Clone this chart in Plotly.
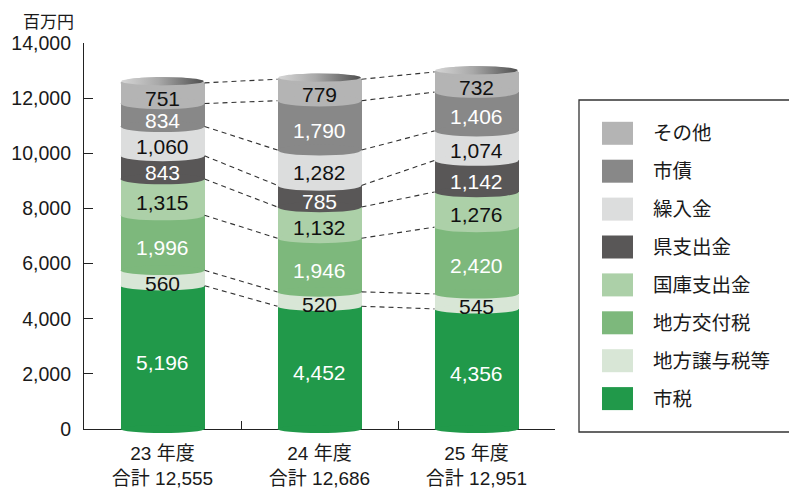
import numpy as np
import plotly.graph_objects as go

# ---------------- data ----------------
years = ["23 年度", "24 年度", "25 年度"]
totals = [12555, 12686, 12951]
series_names = ["市税", "地方譲与税等", "地方交付税", "国庫支出金", "県支出金", "繰入金", "市債", "その他"]  # bottom -> top
shizei = [5196, 4452, 4356]
jouyozei = [560, 520, 545]
koufuzei = [1996, 1946, 2420]
kokko = [1315, 1132, 1276]
kenshishutsu = [843, 785, 1142]
kurire = [1060, 1282, 1074]
shisai = [834, 1790, 1406]
sonota = [751, 779, 732]
series_values = [shizei, jouyozei, koufuzei, kokko, kenshishutsu, kurire, shisai, sonota]
y_ticks = [0, 2000, 4000, 6000, 8000, 10000, 12000, 14000]
unit_label = "百万円"

# ---------------- style ----------------
colors = ["#21994a", "#d8e6d6", "#7db87c", "#acd0a8", "#595757", "#dcdddd", "#888888", "#b4b4b4"]
text_colors = ["white", "#111111", "white", "#111111", "white", "#111111", "white", "#111111"]
FONT = "Liberation Sans, Arial, Noto Sans CJK JP, sans-serif"
YMAX = 14000
L, R, T, B = 84, 234, 43, 60
W, H = 789, 489
PW, PH = W - L - R, H - T - B
BW = 0.535
cats = [f"{y}<br>合計 {t:,}" for y, t in zip(years, totals)]


def px_to_paper_x(px):
    return (px - L) / PW


def px_to_paper_y(py):
    return (H - B - py) / PH


def half_h(v):  # ellipse half height in pixels (slightly rounder at top)
    return 4.0 + 2.0 * v / YMAX


def px_to_data(h):
    return h * YMAX / PH


fig = go.Figure()

for name, vals, col in zip(series_names, series_values, colors):
    fig.add_trace(go.Bar(x=cats, y=vals, name=name, marker=dict(color=col, line=dict(width=0)),
                         width=BW, showlegend=False, hoverinfo="skip"))

# cumulative
cum = np.cumsum(np.array(series_values), axis=0)  # top of each series
base = cum - np.array(series_values)

shapes = []
annotations = []
n = len(years)

# dashed connecting lines
for k in range(len(series_names)):
    for i in range(n - 1):
        shapes.append(dict(type="line", xref="x", yref="y",
                           x0=i + BW / 2, x1=i + 1 - BW / 2,
                           y0=cum[k][i], y1=cum[k][i + 1],
                           line=dict(color="#333333", width=1.1, dash="5px,4px"), layer="above"))

# cylinder segment bottoms
for i in range(n):
    for k in range(len(series_names)):
        b = base[k][i]
        hd = px_to_data(half_h(b))
        shapes.append(dict(type="circle", xref="x", yref="paper",
                           x0=i - BW / 2, x1=i + BW / 2,
                           y0=(b - hd) / YMAX, y1=(b + hd) / YMAX,
                           fillcolor=colors[k], line=dict(width=0), layer="above"))

# top caps (gradient) on hidden linear overlay axis
t = np.linspace(0, 2 * np.pi, 121)
for i in range(n):
    top = cum[-1][i]
    hd = px_to_data(half_h(top))
    xs = i + BW / 2 * np.cos(t)
    fig.add_trace(go.Scatter(x=xs, y=top + hd * np.sin(t), xaxis="x2", yaxis="y",
                             mode="lines", line=dict(width=0), fill="toself",
                             fillcolor=colors[-1], showlegend=False, hoverinfo="skip"))
    hd2 = hd * 0.72
    c2 = top + hd - hd2
    fig.add_trace(go.Scatter(x=i + (BW / 2) * 0.985 * np.cos(t), y=c2 + hd2 * np.sin(t), xaxis="x2", yaxis="y",
                             mode="lines", line=dict(width=0), fill="toself",
                             fillgradient=dict(type="horizontal",
                                               colorscale=[[0, "#d6d6d6"], [0.45, "#a9a9a9"], [1, "#4e4e4e"]]),
                             showlegend=False, hoverinfo="skip"))

# segment labels
for i in range(n):
    for k in range(len(series_names)):
        v = series_values[k][i]
        annotations.append(dict(x=i, y=base[k][i] + v / 2, xref="x", yref="y", text=f"{v:,}",
                                showarrow=False, yshift=-5,
                                font=dict(family=FONT, size=21, color=text_colors[k])))

# unit label
annotations.append(dict(x=px_to_paper_x(76), y=px_to_paper_y(22), xref="paper", yref="paper",
                        text=unit_label, showarrow=False, xanchor="right", yanchor="middle",
                        font=dict(family=FONT, size=17, color="#1a1a1a")))

# legend box
shapes.append(dict(type="rect", xref="paper", yref="paper",
                   x0=px_to_paper_x(579), x1=px_to_paper_x(805),
                   y0=px_to_paper_y(432), y1=px_to_paper_y(100),
                   line=dict(color="#333333", width=1.3), fillcolor="rgba(0,0,0,0)", layer="above"))
row0, step = 133.3, 37.9
for j, k in enumerate(reversed(range(len(series_names)))):
    cy = row0 + j * step
    shapes.append(dict(type="rect", xref="paper", yref="paper",
                       x0=px_to_paper_x(602), x1=px_to_paper_x(633),
                       y0=px_to_paper_y(cy + 11.5), y1=px_to_paper_y(cy - 11.5),
                       fillcolor=colors[k], line=dict(width=0), layer="above"))
    annotations.append(dict(x=px_to_paper_x(651), y=px_to_paper_y(cy), xref="paper", yref="paper",
                            text=series_names[k], showarrow=False, xanchor="left", yanchor="middle",
                            font=dict(family=FONT, size=19.5, color="#1a1a1a")))

fig.update_layout(
    width=W, height=H, barmode="stack",
    margin=dict(l=L, r=R, t=T, b=B, pad=0, autoexpand=False),
    paper_bgcolor="white", plot_bgcolor="white",
    font=dict(family=FONT, color="#1a1a1a"),
    shapes=shapes, annotations=annotations,
    xaxis=dict(type="category", range=[-0.5, 2.5], tickson="boundaries", ticks="inside", ticklen=8,
               tickcolor="#222222", tickwidth=1.2, showline=True, linecolor="#222222", linewidth=1.2,
               showgrid=False, zeroline=False, layer="below traces", automargin=False,
               tickfont=dict(family=FONT, size=19, color="#1a1a1a"), ticklabelstandoff=7),
    xaxis2=dict(overlaying="x", range=[-0.5, 2.5], visible=False),
    yaxis=dict(range=[0, YMAX], tickvals=y_ticks, tickformat=",", ticks="inside", ticklen=9,
               tickcolor="#222222", tickwidth=1.2, showline=True, linecolor="#222222", linewidth=1.2,
               showgrid=False, zeroline=False, layer="below traces", automargin=False,
               tickfont=dict(family=FONT, size=19.5, color="#1a1a1a"), ticklabelstandoff=8),
)

fig.write_html("out.html")
